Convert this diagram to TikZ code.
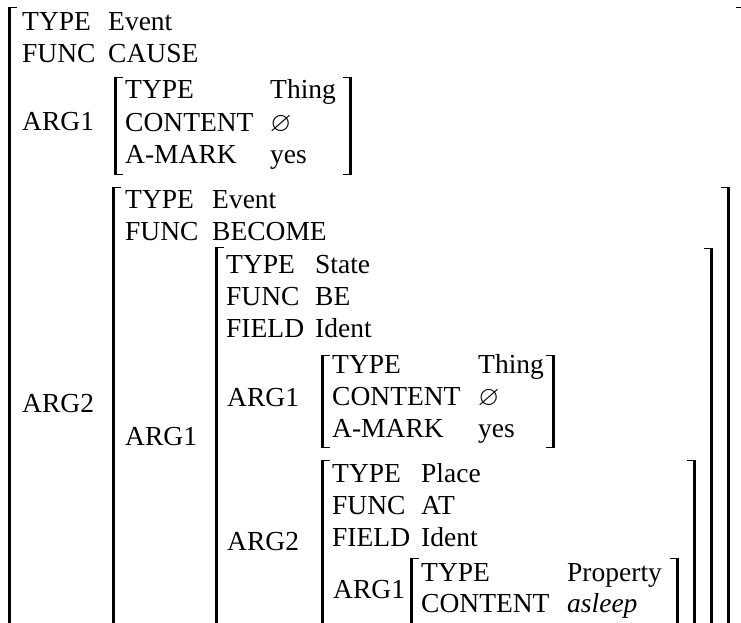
\documentclass[tikz,border=0pt]{standalone}
\usepackage{fontspec}
\usepackage{amssymb}
\setmainfont{Liberation Serif}
\newcommand\avmL[3]{%
  \draw[brk] (#1,#2) -- (#1,#3);
  \draw[tick] (#1-1.5,#2+0.7) -- (#1+7.5,#2+0.7);}
\newcommand\avmLc[3]{%
  \avmL{#1}{#2}{#3}
  \draw[tick] (#1-1.5,#3-0.7) -- (#1+7.5,#3-0.7);}
\newcommand\avmR[3]{%
  \draw[brk] (#1,#2) -- (#1,#3);
  \draw[tick] (#1+1.5,#2+0.7) -- (#1-7.5,#2+0.7);}
\newcommand\avmRc[3]{%
  \avmR{#1}{#2}{#3}
  \draw[tick] (#1+1.5,#3-0.7) -- (#1-7.5,#3-0.7);}
\begin{document}
\begin{tikzpicture}[x=1pt,y=-1pt,
  txt/.style={anchor=base west, inner sep=0pt, font=\fontsize{27.5}{32}\selectfont},
  brk/.style={line width=3pt},
  tick/.style={line width=1.4pt}]
\useasboundingbox (0,0) rectangle (741,622);
% ---------- outer level
\avmL{9}{7}{640}
\avmR{743}{7}{640}
\node[txt] (oTk) at (22,30) {TYPE};
\node[txt] (oTv) at (108,30) {Event};
\node[txt] (oFk) at (22,62) {FUNC};
\node[txt] (oFv) at (108,62) {CAUSE};
\node[txt] (oA1) at (22,130) {ARG1};
\node[txt] (oA2) at (22,412) {ARG2};
% ---------- Thing (outer ARG1)
\avmLc{115}{77}{175}
\avmRc{350}{77}{175}
\node[txt] (t1Tk) at (125,98) {TYPE};
\node[txt] (t1Tv) at (270,98) {Thing};
\node[txt] (t1Ck) at (125,131) {CONTENT};
\node[txt] (t1Cv) at (270,131) {$\varnothing$};
\node[txt] (t1Ak) at (125,163) {A-MARK};
\node[txt] (t1Av) at (270,163) {yes};
% ---------- Event (outer ARG2)
\avmL{113}{187}{640}
\avmR{728}{187}{640}
\node[txt] (eTk) at (125,208) {TYPE};
\node[txt] (eTv) at (212,208) {Event};
\node[txt] (eFk) at (125,240) {FUNC};
\node[txt] (eFv) at (212,240) {BECOME};
\node[txt] (eA1) at (125,445) {ARG1};
% ---------- State
\avmL{216}{247}{640}
\avmR{711}{248}{640}
\node[txt] (sTk) at (226,273) {TYPE};
\node[txt] (sTv) at (315,273) {State};
\node[txt] (sFk) at (226,305) {FUNC};
\node[txt] (sFv) at (315,305) {BE};
\node[txt] (sDk) at (226,337) {FIELD};
\node[txt] (sDv) at (315,337) {Ident};
\node[txt] (sA1) at (227,406) {ARG1};
\node[txt] (sA2) at (227,550) {ARG2};
% ---------- Thing (State ARG1)
\avmLc{322}{355}{448}
\avmRc{553}{355}{448}
\node[txt] (t2Tk) at (332,373) {TYPE};
\node[txt] (t2Tv) at (478,373) {Thing};
\node[txt] (t2Ck) at (332,405) {CONTENT};
\node[txt] (t2Cv) at (478,405) {$\varnothing$};
\node[txt] (t2Ak) at (332,437) {A-MARK};
\node[txt] (t2Av) at (478,437) {yes};
% ---------- Place (State ARG2)
\avmL{322}{460}{640}
\avmR{694}{460}{640}
\node[txt] (pTk) at (332,482) {TYPE};
\node[txt] (pTv) at (421,482) {Place};
\node[txt] (pFk) at (332,514) {FUNC};
\node[txt] (pFv) at (421,514) {AT};
\node[txt] (pDk) at (332,546) {FIELD};
\node[txt] (pDv) at (421,546) {Ident};
\node[txt] (pA1) at (333,598) {ARG1};
% ---------- Property (Place ARG1)
\avmL{411}{558}{640}
\avmR{677}{558}{640}
\node[txt] (qTk) at (421,581) {TYPE};
\node[txt] (qTv) at (567,581) {Property};
\node[txt] (qCk) at (421,612) {CONTENT};
\node[txt] (qCv) at (567,612) {\itshape asleep};
\end{tikzpicture}
\end{document}
